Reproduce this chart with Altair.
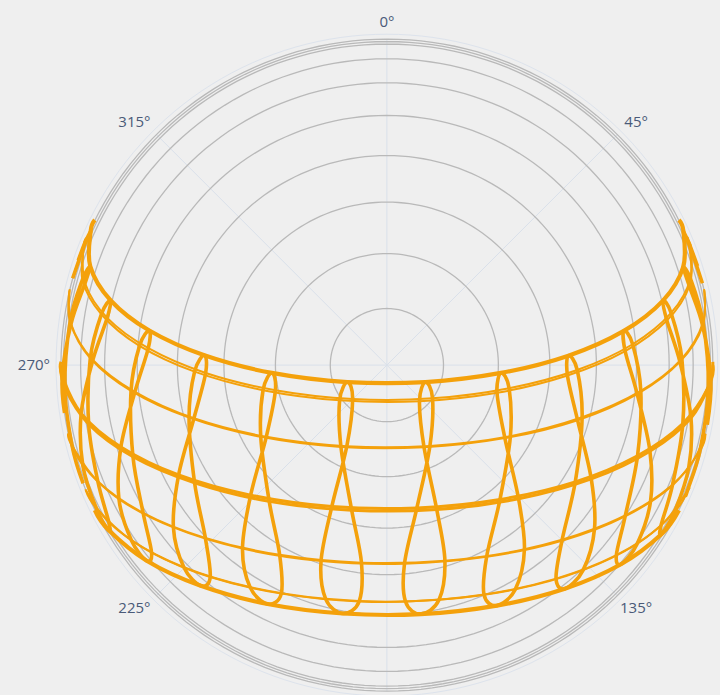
import math
import altair as alt
import pandas as pd

# ---------------------------------------------------------------
# Sun positions, for each clock hour.
# Each point: (month position, east, north) where month position 0 = Jan ... 11 = Dec
# (fractional positions are where the hour curve meets the horizon),
# east / north are the horizontal sky-vector components (1 = horizon circle).
# ---------------------------------------------------------------
MONTHS = ["Jan", "Feb", "Mar", "Apr", "May", "Jun", "Jul", "Aug", "Sep", "Oct", "Nov", "Dec"]
HOURS = [6, 7, 8, 9, 10, 11, 12, 13, 14, 15, 16, 17, 18, 19]

H06 = [(3.141, 0.968, 0.251), (4, 0.934, 0.352), (5, 0.910, 0.409), (6, 0.926, 0.376), (6.557, 0.953, 0.304)]
H07 = [(1.127, 0.983, -0.183), (2, 0.994, -0.048), (3, 0.969, 0.120), (4, 0.928, 0.242), (5, 0.909, 0.301),
       (6, 0.931, 0.266), (7, 0.970, 0.131), (8, 0.986, -0.068), (9, 0.961, -0.261), (10, 0.921, -0.388),
       (10.211, 0.919, -0.394)]
H08 = [(0, 0.882, -0.451), (1, 0.926, -0.315), (2, 0.933, -0.162), (3, 0.899, 0.010), (4, 0.859, 0.137),
       (5, 0.847, 0.198), (6, 0.872, 0.160), (7, 0.905, 0.020), (8, 0.908, -0.179), (9, 0.876, -0.369),
       (10, 0.841, -0.492), (11, 0.842, -0.519)]
H09 = [(0, 0.768, -0.548), (1, 0.809, -0.417), (2, 0.807, -0.264), (3, 0.768, -0.089), (4, 0.731, 0.043),
       (5, 0.727, 0.105), (6, 0.754, 0.064), (7, 0.779, -0.079), (8, 0.769, -0.278), (9, 0.731, -0.464),
       (10, 0.704, -0.583), (11, 0.718, -0.611)]
H10 = [(0, 0.602, -0.629), (1, 0.637, -0.502), (2, 0.627, -0.349), (3, 0.585, -0.169), (4, 0.554, -0.032),
       (5, 0.557, 0.029), (6, 0.584, -0.015), (7, 0.599, -0.160), (8, 0.578, -0.358), (9, 0.537, -0.539),
       (10, 0.519, -0.655), (11, 0.546, -0.686)]
H11 = [(0, 0.394, -0.688), (1, 0.422, -0.565), (2, 0.404, -0.410), (3, 0.362, -0.224), (4, 0.338, -0.085),
       (5, 0.350, -0.024), (6, 0.375, -0.071), (7, 0.379, -0.218), (8, 0.347, -0.412), (9, 0.306, -0.588),
       (10, 0.298, -0.704), (11, 0.337, -0.738)]
H12 = [(0, 0.160, -0.720), (1, 0.178, -0.600), (2, 0.153, -0.443), (3, 0.114, -0.252), (4, 0.100, -0.111),
       (5, 0.118, -0.052), (6, 0.140, -0.102), (7, 0.132, -0.248), (8, 0.092, -0.438), (9, 0.054, -0.609),
       (10, 0.057, -0.725), (11, 0.104, -0.764)]
H13 = [(0, -0.085, -0.725), (1, -0.078, -0.606), (2, -0.108, -0.445), (3, -0.141, -0.251), (4, -0.145, -0.108),
       (5, -0.121, -0.052), (6, -0.105, -0.104), (7, -0.123, -0.249), (8, -0.169, -0.434), (9, -0.202, -0.601),
       (10, -0.188, -0.717), (11, -0.135, -0.762)]
H14 = [(0, -0.324, -0.701), (1, -0.329, -0.582), (2, -0.361, -0.418), (3, -0.387, -0.220), (4, -0.380, -0.077),
       (5, -0.353, -0.024), (6, -0.342, -0.077), (7, -0.370, -0.220), (8, -0.418, -0.399), (9, -0.443, -0.563),
       (10, -0.420, -0.681), (11, -0.366, -0.733)]
H15 = [(0, -0.542, -0.650), (1, -0.557, -0.530), (2, -0.590, -0.361), (3, -0.607, -0.161), (4, -0.590, -0.020),
       (5, -0.560, 0.030), (6, -0.556, -0.024), (7, -0.592, -0.163), (8, -0.639, -0.337), (9, -0.655, -0.498),
       (10, -0.623, -0.620), (11, -0.571, -0.677)]
H16 = [(0, -0.722, -0.575), (1, -0.748, -0.453), (2, -0.779, -0.281), (3, -0.785, -0.079), (4, -0.759, 0.059),
       (5, -0.729, 0.106), (6, -0.732, 0.052), (7, -0.773, -0.082), (8, -0.816, -0.251), (9, -0.822, -0.411),
       (10, -0.784, -0.537), (11, -0.737, -0.600)]
H17 = [(0, -0.853, -0.482), (1, -0.887, -0.356), (2, -0.915, -0.181), (3, -0.910, 0.021), (4, -0.876, 0.156),
       (5, -0.848, 0.199), (6, -0.858, 0.145), (7, -0.902, 0.016), (8, -0.938, -0.148), (9, -0.933, -0.307),
       (10, -0.892, -0.438), (11, -0.854, -0.506)]
H18 = [(0.118, -0.932, -0.363), (1, -0.966, -0.247), (2, -0.988, -0.069), (3, -0.972, 0.132), (4, -0.934, 0.262),
       (5, -0.910, 0.303), (6, -0.926, 0.251), (7, -0.969, 0.127), (8, -0.996, -0.034), (8.699, -0.989, -0.147)]
H19 = [(3.588, -0.947, 0.321), (4, -0.928, 0.372), (5, -0.909, 0.410), (6, -0.931, 0.360), (6.790, -0.964, 0.266)]

HOUR_TRACKS = [H06, H07, H08, H09, H10, H11, H12, H13, H14, H15, H16, H17, H18, H19]

# sunrise / sunset points on the horizon for each month
RISE_EAST = [0.924, 0.978, 1.000, 0.974, 0.923, 0.896, 0.920, 0.973, 1.000, 0.977, 0.925, 0.896]
RISE_NORTH = [-0.383, -0.210, 0.000, 0.229, 0.384, 0.445, 0.392, 0.233, 0.010, -0.213, -0.381, -0.445]
SET_EAST = [-0.924, -0.978, -1.000, -0.974, -0.923, -0.896, -0.920, -0.973, -1.000, -0.977, -0.925, -0.896]
SET_NORTH = [-0.383, -0.210, 0.000, 0.229, 0.384, 0.445, 0.392, 0.233, 0.010, -0.213, -0.381, -0.445]

SOLSTICE_MONTHS = ["Jun", "Dec"]      # bold paths
EQUINOX_MONTHS = ["Mar", "Sep"]       # bold (paired) paths

ZENITH_TICKS = [10, 20, 30, 40, 50, 60, 70, 80, 83, 90]  # radial grid circles (zenith angle, deg)
AZIMUTH_TICKS = [0, 45, 90, 135, 180, 225, 270, 315]
LABEL_TICKS = [0, 45, 135, 225, 270, 315]
LABEL_TEXT = ["0°", "45°", "135°", "225°", "270°", "315°"]

# ---------------------------------------------------------------
# tables
# ---------------------------------------------------------------
ana_rows = []
for hour, track in zip(HOURS, HOUR_TRACKS):
    closed = len(track) == 12
    for pos, e, n in track:
        ana_rows.append({"hour": hour, "pos": pos, "east": e, "north": n, "closed": closed})
ana = pd.DataFrame(ana_rows)

day_rows = []
for m, name in enumerate(MONTHS):
    day_rows.append({"month": name, "order": 0, "east": RISE_EAST[m], "north": RISE_NORTH[m]})
    for hour, track in zip(HOURS, HOUR_TRACKS):
        for pos, e, n in track:
            if pos == m:
                day_rows.append({"month": name, "order": hour, "east": e, "north": n})
    day_rows.append({"month": name, "order": 99, "east": SET_EAST[m], "north": SET_NORTH[m]})
day = pd.DataFrame(day_rows)
day["kind"] = ["sol" if m in SOLSTICE_MONTHS else ("eq" if m in EQUINOX_MONTHS else "other")
               for m in day["month"]]

grid_rows = []
for z in ZENITH_TICKS:
    r = math.sin(math.radians(z))
    for a in range(0, 362, 2):
        t = math.radians(a)
        grid_rows.append({"zen": z, "a": a, "east": r * math.sin(t), "north": r * math.cos(t)})
grid = pd.DataFrame(grid_rows)

rim_rows = []
for a in range(0, 362, 2):
    t = math.radians(a)
    rim_rows.append({"a": a, "east": 1.015 * math.sin(t), "north": 1.015 * math.cos(t)})
rim = pd.DataFrame(rim_rows)

spokes = pd.DataFrame({
    "az": AZIMUTH_TICKS,
    "x0": [0.0] * len(AZIMUTH_TICKS),
    "y0": [0.0] * len(AZIMUTH_TICKS),
    "x1": [math.sin(math.radians(a)) for a in AZIMUTH_TICKS],
    "y1": [math.cos(math.radians(a)) for a in AZIMUTH_TICKS],
})

labels = pd.DataFrame({"az": LABEL_TICKS, "text": LABEL_TEXT})

# ---------------------------------------------------------------
# chart
# ---------------------------------------------------------------
XS = alt.Scale(domain=[-1.187, 1.022], nice=False, zero=False)
YS = alt.Scale(domain=[-1.012, 1.120], nice=False, zero=False)
ORANGE = "#f4a10b"


def xy(xf="east:Q", yf="north:Q"):
    return {"x": alt.X(xf, scale=XS, axis=None), "y": alt.Y(yf, scale=YS, axis=None)}


spoke_layer = alt.Chart(spokes).mark_rule(color="#d9e0ea", strokeWidth=1).encode(
    x=alt.X("x0:Q", scale=XS, axis=None), y=alt.Y("y0:Q", scale=YS, axis=None),
    x2="x1:Q", y2="y1:Q")

rim_layer = alt.Chart(rim).mark_line(color="#dde3ec", strokeWidth=1).encode(
    **xy(), order="a:Q")

grid_layer = alt.Chart(grid).mark_line(color="#b9b9b9", strokeWidth=1.3).encode(
    **xy(), detail="zen:N", order="a:Q")

thin_days = alt.Chart(day).transform_filter("datum.kind == 'other'").mark_line(
    color=ORANGE, strokeWidth=2, interpolate="cardinal").encode(
    **xy(), detail="month:N", order="order:Q")

eq_days = alt.Chart(day).transform_filter("datum.kind == 'eq'").mark_line(
    color=ORANGE, strokeWidth=3, interpolate="cardinal").encode(
    **xy(), detail="month:N", order="order:Q")

sol_days = alt.Chart(day).transform_filter("datum.kind == 'sol'").mark_line(
    color=ORANGE, strokeWidth=4.2, interpolate="cardinal").encode(
    **xy(), detail="month:N", order="order:Q")

loops = alt.Chart(ana).transform_filter("datum.closed").mark_line(
    color=ORANGE, strokeWidth=3.6, interpolate="cardinal-closed").encode(
    **xy(), detail="hour:N", order="pos:Q")

arcs = alt.Chart(ana).transform_filter("!datum.closed").mark_line(
    color=ORANGE, strokeWidth=3.6, interpolate="cardinal").encode(
    **xy(), detail="hour:N", order="pos:Q")

label_layer = alt.Chart(labels).transform_calculate(
    lx="1.053 * sin(datum.az * PI / 180) + (sin(datum.az * PI / 180) > 0.01 ? 0.02 : (sin(datum.az * PI / 180) < -0.01 ? -0.03 : 0))",
    ly="1.053 * cos(datum.az * PI / 180)",
).mark_text(font="Open Sans", fontSize=15, color="#4a5a78", align="center", baseline="middle").encode(
    **xy("lx:Q", "ly:Q"), text="text:N")

chart = alt.layer(
    spoke_layer, rim_layer, grid_layer, thin_days, eq_days, sol_days, loops, arcs, label_layer
).properties(
    width=720, height=695,
    autosize=alt.AutoSizeParams(type="none"),
    padding=0,
    background="#efefef",
).configure_view(stroke=None)

chart.save("out.html", embed_options={"renderer": "svg", "actions": False})
